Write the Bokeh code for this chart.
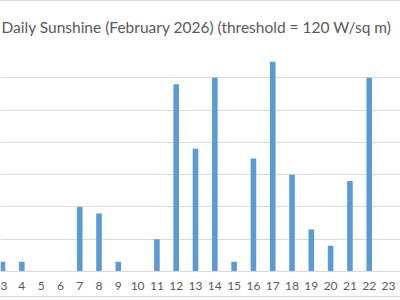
from bokeh.plotting import figure
from bokeh.models import ColumnDataSource, FixedTicker, Range1d, Title
from bokeh.embed import file_html
from bokeh.resources import INLINE

days = [3, 4, 5, 6, 7, 8, 9, 10, 11, 12, 13, 14, 15, 16, 17, 18, 19, 20, 21, 22, 23]
sunshine = [0.3, 0.3, 0, 0, 2.0, 1.8, 0.3, 0, 1.0, 5.8, 3.8, 6.0, 0.3, 3.5, 6.5, 3.0, 1.3, 0.8, 2.8, 6.0, 0]
title_text = "Daily Sunshine (February 2026) (threshold = 120 W/sq m)"
y_max = 7

src = ColumnDataSource(data=dict(day=days, val=sunshine))

p = figure(width=400, height=297, output_backend="svg", toolbar_location=None,
           x_range=Range1d(2.896, 23.62), y_range=Range1d(0, y_max),
           min_border_left=0, min_border_right=0, min_border_top=44, min_border_bottom=27)

p.title = None
t = Title(text=title_text, align="left", offset=1, text_font="Lato", text_font_size="15.5px",
          text_font_style="normal", text_color="#595959", standoff=16, vertical_align="top")
p.add_layout(t, "above")

p.vbar(x="day", top="val", width=0.29, source=src, color="#5b9bd5", line_color=None)

p.yaxis.visible = False
p.xaxis.ticker = FixedTicker(ticks=days)
p.xaxis.major_tick_line_color = None
p.xaxis.minor_tick_line_color = None
p.xaxis.axis_line_color = "#d9d9d9"
p.xaxis.major_label_text_color = "#595959"
p.xaxis.major_label_text_font = "Lato"
p.xaxis.major_label_text_font_size = "12px"
p.xaxis.major_label_standoff = 4

p.xgrid.visible = False
p.ygrid.ticker = FixedTicker(ticks=list(range(0, y_max + 1)))
p.ygrid.grid_line_color = "#d9d9d9"
p.outline_line_color = None
p.styles = {"border-top": "1px solid #d9d9d9", "border-bottom": "1px solid #d9d9d9"}

open("out.html", "w").write(file_html(p, INLINE))
